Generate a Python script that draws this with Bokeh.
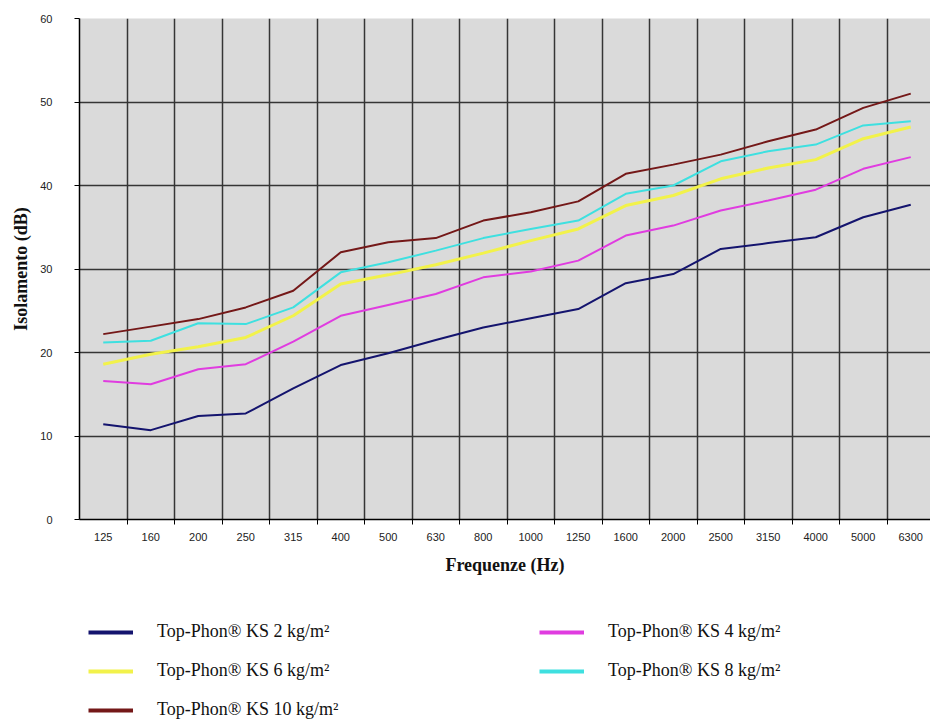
from bokeh.plotting import figure
from bokeh.models import Range1d, FixedTicker, Legend, LegendItem
from bokeh.layouts import column
from bokeh.embed import file_html
from bokeh.resources import INLINE

freqs = ["125", "160", "200", "250", "315", "400", "500", "630", "800", "1000",
         "1250", "1600", "2000", "2500", "3150", "4000", "5000", "6300"]

ks2 = [11.4, 10.7, 12.4, 12.7, 15.7, 18.5, 19.9, 21.5, 23.0, 24.1, 25.2, 28.3, 29.4, 32.4, 33.1, 33.8, 36.2, 37.7]
ks4 = [16.6, 16.2, 18.0, 18.6, 21.3, 24.4, 25.7, 27.0, 29.0, 29.7, 31.0, 34.0, 35.2, 37.0, 38.2, 39.5, 42.0, 43.4]
ks6 = [18.6, 19.8, 20.7, 21.8, 24.4, 28.2, 29.3, 30.5, 31.9, 33.4, 34.8, 37.6, 38.8, 40.8, 42.1, 43.1, 45.6, 47.0]
ks8 = [21.2, 21.4, 23.5, 23.4, 25.4, 29.6, 30.8, 32.2, 33.7, 34.8, 35.8, 39.0, 40.0, 42.9, 44.1, 44.9, 47.2, 47.7]
ks10 = [22.2, 23.1, 24.0, 25.4, 27.4, 32.0, 33.2, 33.7, 35.8, 36.8, 38.1, 41.4, 42.5, 43.7, 45.3, 46.7, 49.3, 51.0]

labels = ["Top-Phon® KS 2 kg/m²", "Top-Phon® KS 4 kg/m²", "Top-Phon® KS 6 kg/m²",
          "Top-Phon® KS 8 kg/m²", "Top-Phon® KS 10 kg/m²"]
y_ticks = [0, 10, 20, 30, 40, 50, 60]

colors = ["#14146e", "#e03ce0", "#f2f24a", "#3ee0e0", "#741818"]
widths = [2, 2, 3, 2, 2]

n = len(freqs)
xs = [i + 0.5 for i in range(n)]
bounds = list(range(1, n))

p = figure(width=930, height=598, output_backend="svg", toolbar_location=None,
           x_range=Range1d(0, 851 / 47.5), y_range=Range1d(0, 60),
           min_border_left=79, min_border_right=0, min_border_top=18, min_border_bottom=79)

p.background_fill_color = "#dadada"
p.border_fill_color = "white"
p.outline_line_color = None

# grid
p.xgrid.ticker = FixedTicker(ticks=bounds)
p.ygrid.ticker = FixedTicker(ticks=y_ticks)
for g in (p.xgrid, p.ygrid):
    g.grid_line_color = "#353535"
    g.grid_line_width = 1.5

# x axis
xa = p.xaxis[0]
xa.ticker = FixedTicker(ticks=xs, minor_ticks=bounds)
xa.major_label_overrides = {x: f for x, f in zip(xs, freqs)}
xa.major_tick_out = 0
xa.major_tick_in = 0
xa.minor_tick_out = 5
xa.minor_tick_in = 0
xa.minor_tick_line_color = "black"
xa.axis_line_color = "black"
xa.axis_line_width = 1.5
xa.major_label_text_font = "Liberation Sans"
xa.major_label_text_font_size = "11px"
xa.major_label_text_color = "#222222"
xa.major_label_standoff = 8
xa.axis_label = "Frequenze (Hz)"
xa.axis_label_text_font = "Liberation Serif"
xa.axis_label_text_font_style = "bold"
xa.axis_label_text_font_size = "18px"
xa.axis_label_text_color = "#111111"
xa.axis_label_standoff = 11

# y axis
ya = p.yaxis[0]
ya.ticker = FixedTicker(ticks=y_ticks)
ya.minor_tick_line_color = None
ya.major_tick_out = 5
ya.major_tick_in = 0
ya.major_tick_line_color = "black"
ya.axis_line_color = "black"
ya.axis_line_width = 1.5
ya.major_label_text_font = "Liberation Sans"
ya.major_label_text_font_size = "11px"
ya.major_label_text_color = "#222222"
ya.major_label_standoff = 22
ya.axis_label = "Isolamento (dB)"
ya.axis_label_text_font = "Liberation Serif"
ya.axis_label_text_font_style = "bold"
ya.axis_label_text_font_size = "18px"
ya.axis_label_text_color = "#111111"
ya.axis_label_standoff = 6

series = [ks2, ks4, ks6, ks8, ks10]
for s, c, w in zip(series, colors, widths):
    p.line(xs, s, line_color=c, line_width=w)

# legend panel
p2 = figure(width=930, height=124, output_backend="svg", toolbar_location=None,
            x_range=Range1d(0, 1), y_range=Range1d(0, 1),
            x_axis_location=None, y_axis_location=None, min_border=0)
p2.outline_line_color = None
p2.background_fill_color = "white"
p2.border_fill_color = "white"
p2.xgrid.visible = False
p2.ygrid.visible = False

nan = float("nan")
leg_r = [p2.line(x=[nan], y=[nan], line_color=c, line_width=4) for c in colors]

def make_legend(idx, loc):
    lg = Legend(items=[LegendItem(label=labels[i], renderers=[leg_r[i]]) for i in idx],
                location=loc, orientation="vertical")
    lg.background_fill_alpha = 0
    lg.border_line_color = None
    lg.padding = 0
    lg.margin = 0
    lg.spacing = 18
    lg.glyph_width = 45
    lg.glyph_height = 20
    lg.label_height = 20
    lg.label_standoff = 24
    lg.label_text_font = "Liberation Serif"
    lg.label_text_font_size = "18px"
    lg.label_text_color = "#111111"
    return lg

p2.add_layout(make_legend([0, 2, 4], (9, 2)), "center")
p2.add_layout(make_legend([1, 3], (460, 41)), "center")

open("out.html", "w").write(file_html(column(p, p2), INLINE))
